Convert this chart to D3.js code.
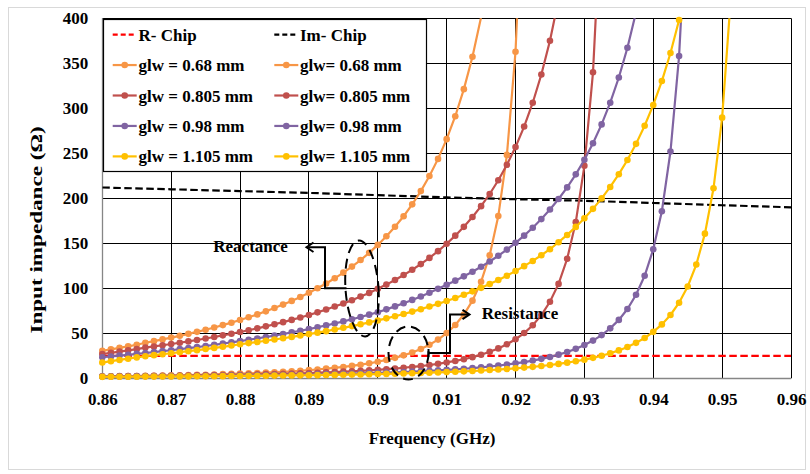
<!DOCTYPE html>
<html><head><meta charset="utf-8">
<script src="https://cdn.jsdelivr.net/npm/d3@7"></script>
<style>
body{margin:0;background:#fff}
svg{display:block}
text{font-family:"Liberation Serif","Times New Roman",serif;font-weight:bold;fill:#000}
</style></head><body>
<svg id="c" width="810" height="474"></svg>
<script>
// ---------- DATA ----------
const freq = [0.86,0.86125,0.8625,0.86375,0.865,0.86625,0.8675,0.86875,0.87,0.87125,0.8725,0.87375,0.875,0.87625,0.8775,0.87875,0.88,0.88125,0.8825,0.88375,0.885,0.88625,0.8875,0.88875,0.89,0.89125,0.8925,0.89375,0.895,0.89625,0.8975,0.89875,0.9,0.90125,0.9025,0.90375,0.905,0.90625,0.9075,0.90875,0.91,0.91125,0.9125,0.91375,0.915,0.91625,0.9175,0.91875,0.92,0.92125,0.9225,0.92375,0.925,0.92625,0.9275,0.92875,0.93,0.93125,0.9325,0.93375,0.935,0.93625,0.9375,0.93875,0.94,0.94125,0.9425,0.94375,0.945,0.94625,0.9475,0.94875,0.95,0.95125,0.9525,0.95375,0.955,0.95625,0.9575,0.95875,0.96];
const chipFreq = [0.86,0.87,0.88,0.89,0.9,0.91,0.92,0.93,0.94,0.95,0.96];
const rChip  = [25,25,25,25,25,25,25,25,25,25,25];
const imChip = [212,210,208,206,203.5,201,199,197.3,194.8,192.3,190];

const r068 = [2.0,2.1,2.2,2.4,2.5,2.7,2.8,3.0,3.2,3.4,3.6,3.8,4.0,4.3,4.6,4.9,5.2,5.5,5.9,6.3,6.8,7.3,7.8,8.4,9.1,9.8,10.7,11.6,12.6,13.8,15.1,16.6,18.4,20.4,22.7,25.5,28.7,32.6,37.3,43.0,50.2,59.2,70.9,86.3,107.3,136.8,180.3,248.2,362.9,579.6];
const x068 = [30.5,32.1,33.8,35.5,37.3,39.5,41.3,43.2,45.2,47.2,49.4,51.6,54.0,56.5,59.1,61.8,64.7,67.8,71.0,74.4,78.1,81.9,86.0,90.4,95.0,100.0,105.4,111.1,117.4,124.1,131.4,139.4,148.2,157.8,168.4,180.1,193.3,208.0,224.7,243.8,265.7,291.2,321.3,357.3,401.2,455.7];
const r0805 = [2.2,2.3,2.4,2.4,2.5,2.6,2.7,2.8,2.9,3.0,3.1,3.3,3.4,3.5,3.7,3.8,4.0,4.2,4.4,4.6,4.8,5.1,5.3,5.6,5.9,6.2,6.6,6.9,7.4,7.8,8.3,8.8,9.4,10.1,10.8,11.7,12.6,13.6,14.8,16.1,17.6,19.3,21.2,23.5,26.2,29.4,33.2,37.8,43.4,50.3,59.0,70.2,85.0,104.9,132.8,173.5,236.1,340.0,531.2];
const x0805 = [27.0,28.3,29.6,31.0,32.4,34.1,35.4,36.7,38.1,39.5,41.0,42.6,44.2,45.9,47.7,49.5,51.4,53.4,55.5,57.7,60.0,62.4,64.9,67.6,70.3,73.3,76.4,79.7,83.1,86.8,90.8,94.9,99.4,104.1,109.2,114.7,120.6,126.9,133.8,141.3,149.5,158.5,168.3,179.2,191.3,204.8,220.0,237.2,256.9,279.7,306.2,337.5,375.1,421.1];
const r098 = [1.9,1.9,2.0,2.0,2.1,2.2,2.2,2.3,2.4,2.4,2.5,2.6,2.7,2.8,2.9,3.0,3.1,3.2,3.3,3.4,3.6,3.7,3.9,4.0,4.2,4.4,4.6,4.8,5.0,5.2,5.5,5.7,6.0,6.3,6.7,7.0,7.4,7.8,8.3,8.8,9.4,10.0,10.6,11.4,12.2,13.1,14.1,15.3,16.6,18.0,19.7,21.6,23.7,26.3,29.2,32.7,36.9,41.9,48.0,55.5,64.9,77.0,92.8,113.9,143.3,185.6,252.0,358.0,541.1];
const x098 = [23.4,24.3,25.2,26.1,27.1,28.1,29.1,30.2,31.2,32.4,33.5,34.7,35.9,37.2,38.5,39.9,41.3,42.8,44.3,45.9,47.5,49.2,51.0,52.8,54.7,56.7,58.8,60.9,63.2,65.6,68.1,70.7,73.4,76.6,79.9,83.4,87.1,90.9,95.1,99.4,103.9,108.5,113.3,118.4,123.9,129.8,136.2,143.0,150.5,158.5,167.3,176.9,187.5,199.2,212.1,226.6,242.8,261.2,282.1,306.2,334.2,367.3,406.8];
const r1105 = [1.6,1.7,1.7,1.8,1.8,1.9,1.9,2.0,2.0,2.1,2.1,2.2,2.3,2.3,2.4,2.5,2.6,2.7,2.8,2.9,3.0,3.1,3.2,3.3,3.4,3.5,3.7,3.8,4.0,4.1,4.3,4.5,4.7,4.9,5.1,5.4,5.6,5.9,6.2,6.5,6.9,7.3,7.7,8.1,8.6,9.2,9.7,10.4,11.1,11.9,12.7,13.7,14.8,16.0,17.4,18.9,20.7,22.7,25.1,27.8,31.0,34.8,39.4,44.8,51.6,59.9,70.4,84.0,102.0,126.4,160.7,211.1,289.6,421.6];
const x1105 = [17.5,19.0,20.4,21.8,23.2,24.5,25.7,26.8,27.8,29.0,30.1,31.3,32.5,33.8,35.0,36.4,37.8,39.1,40.3,41.7,43.1,44.5,46.0,47.5,49.1,50.7,52.4,54.2,56.1,58.0,60.0,62.1,64.3,66.6,68.9,71.4,74.1,76.8,79.7,82.7,85.9,89.3,92.8,96.6,100.5,104.8,109.2,114.0,119.1,124.6,130.4,136.7,143.4,151.2,159.3,168.2,177.8,188.3,199.9,212.6,226.8,242.6,260.5,280.6,303.7,330.3,361.4,398.1,442.2];

const xTicks = [0.86,0.87,0.88,0.89,0.9,0.91,0.92,0.93,0.94,0.95,0.96];
const xTickLabels = ["0.86","0.87","0.88","0.89","0.9","0.91","0.92","0.93","0.94","0.95","0.96"];
const yTicks = [0,50,100,150,200,250,300,350,400];
const legendLabels = ["R- Chip","Im- Chip","glw = 0.68 mm","glw= 0.68 mm","glw = 0.805 mm","glw= 0.805 mm","glw = 0.98 mm","glw= 0.98 mm","glw = 1.105 mm","glw= 1.105 mm"];
const xTitle = "Frequency (GHz)";
const yTitle = "Input impedance (\u03A9)";

// ---------- STYLE ----------
const C = {orange:"#F79646", red:"#C0504D", purple:"#8064A2", yellow:"#FFC000"};
const seriesList = [
  {f:chipFreq, v:rChip, color:"#FF0000", dash:true},
  {f:chipFreq, v:imChip, color:"#000000", dash:true},
  {f:freq, v:r068, color:C.orange}, {f:freq, v:x068, color:C.orange},
  {f:freq, v:r0805, color:C.red},   {f:freq, v:x0805, color:C.red},
  {f:freq, v:r098, color:C.purple}, {f:freq, v:x098, color:C.purple},
  {f:freq, v:r1105, color:C.yellow},{f:freq, v:x1105, color:C.yellow}
];

const svg = d3.select("#c");
const P = {l:102.3, r:791, t:18.3, b:378.3};
const x = d3.scaleLinear().domain([0.86,0.96]).range([P.l,P.r]);
const y = d3.scaleLinear().domain([0,400]).range([P.b,P.t]);
const crisp = v => Math.round(v-0.5)+0.5;

// outer chart border
svg.append("rect").attr("x",8.5).attr("y",7.5).attr("width",797).attr("height",462)
  .attr("fill","#fff").attr("stroke","#d9d9d9").attr("stroke-width",1);

// gridlines
const grid = svg.append("g").attr("stroke","#000").attr("stroke-width",1);
grid.selectAll(".h").data(yTicks.filter(d=>d>0)).join("line")
  .attr("x1",P.l).attr("x2",P.r).attr("y1",d=>crisp(y(d))).attr("y2",d=>crisp(y(d)));
grid.selectAll(".v").data(xTicks.filter(d=>d>0.86)).join("line")
  .attr("y1",P.t).attr("y2",P.b).attr("x1",d=>crisp(x(d))).attr("x2",d=>crisp(x(d)));

// axes lines (gray)
svg.append("line").attr("x1",crisp(P.l)).attr("x2",crisp(P.l)).attr("y1",P.t).attr("y2",P.b+0.5)
  .attr("stroke","#868686").attr("stroke-width",1.3);
svg.append("line").attr("x1",P.l).attr("x2",P.r).attr("y1",crisp(P.b)).attr("y2",crisp(P.b))
  .attr("stroke","#868686").attr("stroke-width",1.3);

// axes labels via d3 axis
const xa = svg.append("g").attr("transform",`translate(0,${P.b})`)
  .call(d3.axisBottom(x).tickValues(xTicks).tickFormat((d,i)=>xTickLabels[i]).tickSize(0));
xa.select(".domain").remove();
xa.attr("font-size",17).attr("font-family","Liberation Serif, Times New Roman, serif").attr("font-weight","bold");
xa.selectAll("text").attr("dy",null).attr("y",27);

const ya = svg.append("g").attr("transform",`translate(${P.l},0)`)
  .call(d3.axisLeft(y).tickValues(yTicks).tickFormat(d3.format("d")).tickSize(0).tickPadding(14));
ya.select(".domain").remove();
ya.attr("font-size",17).attr("font-family","Liberation Serif, Times New Roman, serif").attr("font-weight","bold");
ya.selectAll("text").attr("dy","0.33em");

// axis titles
svg.append("text").attr("x",432).attr("y",444).attr("text-anchor","middle")
  .attr("font-size",17).text(xTitle);
svg.append("text").attr("transform","translate(41.5,230) rotate(-90) scale(1.36,1)").attr("text-anchor","middle")
  .attr("font-size",17).text(yTitle);

// series
svg.append("defs").append("clipPath").attr("id","pc").append("rect")
  .attr("x",P.l).attr("y",P.t).attr("width",P.r-P.l).attr("height",P.b-P.t);
const line = d3.line().x(d=>x(d[0])).y(d=>y(d[1]));
const plot = svg.append("g");
seriesList.forEach(s=>{
  const pts = d3.zip(s.f.slice(0,s.v.length), s.v);
  plot.append("path").datum(pts).attr("clip-path","url(#pc)")
    .attr("fill","none").attr("stroke",s.color)
    .attr("stroke-width", 2.2)
    .attr("stroke-dasharray", s.dash ? "7.5,3.5" : null)
    .attr("d", line);
  if(!s.dash){
    plot.append("g").selectAll("circle").data(pts.filter(d=>d[1]<=400)).join("circle")
      .attr("cx",d=>x(d[0])).attr("cy",d=>y(d[1])).attr("r",3.3).attr("fill",s.color);
  }
});

// annotations
const ann = svg.append("g").attr("fill","none").attr("stroke","#000");
ann.append("ellipse").attr("cx",362).attr("cy",288.5).attr("rx",16.5).attr("ry",48)
  .attr("transform","rotate(-4,362,288.5)").attr("stroke-width",2).attr("stroke-dasharray","10,6");
ann.append("ellipse").attr("cx",408.5).attr("cy",353).attr("rx",20).attr("ry",26.5)
  .attr("stroke-width",2).attr("stroke-dasharray","10,6");
ann.append("polyline").attr("points","346.5,288.3 325,288.3 325,247.3 307,247.3").attr("stroke-width",2);
ann.append("polyline").attr("points","313.5,242.5 306.5,247.3 313.5,252").attr("stroke-width",2);
ann.append("polyline").attr("points","428.5,353 450,353 450,314.5 469,314.5").attr("stroke-width",2);
ann.append("polyline").attr("points","462.5,309.8 469.5,314.5 462.5,319.2").attr("stroke-width",2);
ann.append("line").attr("x1",428.5).attr("x2",428.5).attr("y1",349).attr("y2",357).attr("stroke-width",2);
svg.append("text").attr("x",213.3).attr("y",251.7).attr("font-size",17).text("Reactance");
svg.append("text").attr("x",481.7).attr("y",319.3).attr("font-size",17).text("Resistance");

// legend
const lg = svg.append("g");
lg.append("rect").attr("x",103.5).attr("y",19.5).attr("width",323).attr("height",152)
  .attr("fill","#fff").attr("stroke","#000").attr("stroke-width",1.2);
seriesList.forEach((s,i)=>{
  const col = i%2, row = Math.floor(i/2);
  const bx = col===0 ? 112.7 : 274.3;
  const base = 40.6 + row*30.45;
  const cy = base - 6;
  lg.append("line").attr("x1",bx).attr("x2",bx+24).attr("y1",cy).attr("y2",cy)
    .attr("stroke",s.color).attr("stroke-width",2.2)
    .attr("stroke-dasharray", s.dash ? "5,3" : null);
  if(!s.dash) lg.append("circle").attr("cx",bx+12).attr("cy",cy).attr("r",3.3).attr("fill",s.color);
  lg.append("text").attr("x", col===0 ? 138.5 : 300).attr("y",base).attr("font-size",17).text(legendLabels[i]);
});
</script>
</body></html>
